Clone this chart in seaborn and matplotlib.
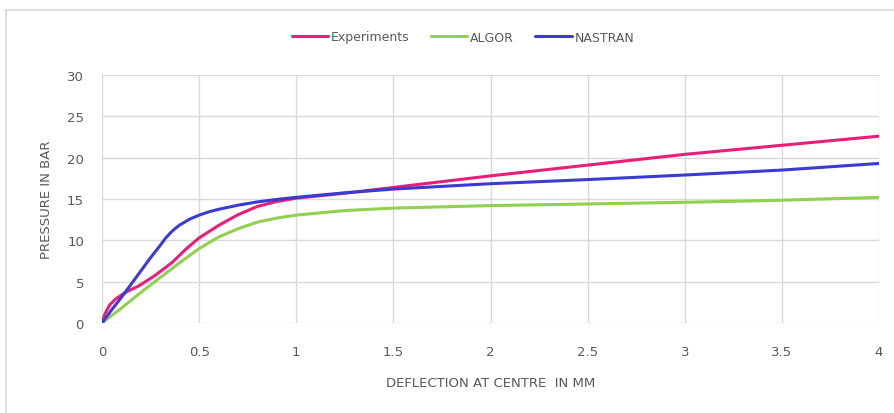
import matplotlib
matplotlib.use("Agg")
import matplotlib.pyplot as plt
from matplotlib.lines import Line2D
import numpy as np
import pandas as pd
import seaborn as sns

# Deflection (mm) / pressure (bar) readings for each series
exp_x = [0, 0.015, 0.04, 0.07, 0.12, 0.19, 0.27, 0.36, 0.43, 0.5, 0.6, 0.7,
         0.8, 0.9, 1.0, 1.25, 1.5, 2.0, 2.5, 3.0, 3.5, 4.0]
exp_y = [0, 1.1, 2.2, 2.9, 3.7, 4.5, 5.7, 7.3, 8.9, 10.3, 11.8, 13.1,
         14.1, 14.7, 15.1, 15.7, 16.4, 17.8, 19.1, 20.4, 21.5, 22.6]

algor_x = [0, 0.1, 0.2, 0.3, 0.4, 0.5, 0.6, 0.7, 0.8, 0.9, 1.0, 1.25,
           1.5, 2.0, 2.5, 3.0, 3.5, 4.0]
algor_y = [0, 1.8, 3.7, 5.5, 7.3, 9.0, 10.4, 11.4, 12.2, 12.7, 13.05, 13.6,
           13.9, 14.2, 14.4, 14.6, 14.85, 15.2]

nastran_x = [0, 0.05, 0.1, 0.15, 0.2, 0.25, 0.3, 0.325, 0.35, 0.375, 0.4,
             0.45, 0.5, 0.55, 0.6, 0.7, 0.8, 0.9, 1.0, 1.25, 1.5, 2.0, 2.5,
             3.0, 3.5, 4.0]
nastran_y = [0, 1.6, 3.1, 4.7, 6.3, 7.9, 9.4, 10.2, 10.85, 11.4, 11.85,
             12.55, 13.05, 13.45, 13.75, 14.25, 14.65, 14.95, 15.2, 15.75,
             16.2, 16.85, 17.35, 17.9, 18.5, 19.3]

series_names = ["Experiments", "ALGOR", "NASTRAN"]
series_colors = ["#E91E78", "#92D050", "#3B3BD2"]

x_ticks = [0, 0.5, 1, 1.5, 2, 2.5, 3, 3.5, 4]
x_tick_labels = ["0", "0.5", "1", "1.5", "2", "2.5", "3", "3.5", "4"]
y_ticks = [0, 5, 10, 15, 20, 25, 30]

frames = []
for name, xs, ys in zip(series_names,
                        [exp_x, algor_x, nastran_x],
                        [exp_y, algor_y, nastran_y]):
    frames.append(pd.DataFrame({"deflection": xs, "pressure": ys, "series": name}))
df = pd.concat(frames, ignore_index=True)

sns.set_theme(style="white")
plt.rcParams["font.family"] = ["DejaVu Sans"]

text_color = "#595959"
grid_color = "#D9D9D9"

fig = plt.figure(figsize=(8.94, 4.14), dpi=100)
ax = fig.add_axes([102 / 894, 1 - 324 / 414, (879 - 102) / 894, (324 - 76) / 414])

sns.lineplot(data=df, x="deflection", y="pressure", hue="series",
             hue_order=series_names, palette=series_colors,
             estimator=None, sort=False, linewidth=2.2, ax=ax, legend=False,
             zorder=3)

ax.set_xlim(0, 4)
ax.set_ylim(0, 30)
ax.set_xticks(x_ticks)
ax.set_xticklabels(x_tick_labels)
ax.set_yticks(y_ticks)
ax.grid(True, color=grid_color, linewidth=1.0, zorder=0)
ax.set_axisbelow(True)
for s in ax.spines.values():
    s.set_visible(False)
ax.tick_params(axis="both", length=0, colors=text_color, labelsize=9.5)
ax.tick_params(axis="x", pad=16)
ax.tick_params(axis="y", pad=13)

ax.set_xlabel("DEFLECTION AT CENTRE  IN MM", color=text_color, fontsize=9.5,
              labelpad=13)
ax.set_ylabel("PRESSURE IN BAR", color=text_color, fontsize=9.5, labelpad=10)

handles = [Line2D([0], [0], color=c, linewidth=2.2) for c in series_colors]
fig.legend(handles, series_names, loc="center", bbox_to_anchor=(463 / 894, 1 - 38 / 414),
           ncol=3, frameon=False, fontsize=9, handlelength=2.9,
           handletextpad=0.25, columnspacing=1.7, labelcolor=text_color)

# Chart-area border (left and top edges)
fig.add_artist(Line2D([6 / 894, 6 / 894], [0, 1 - 11 / 414], color=grid_color,
                      linewidth=1.2, transform=fig.transFigure))
fig.add_artist(Line2D([6 / 894, 1], [1 - 11 / 414, 1 - 11 / 414], color=grid_color,
                      linewidth=1.2, transform=fig.transFigure))

fig.savefig("out.png", dpi=100, facecolor="white")
